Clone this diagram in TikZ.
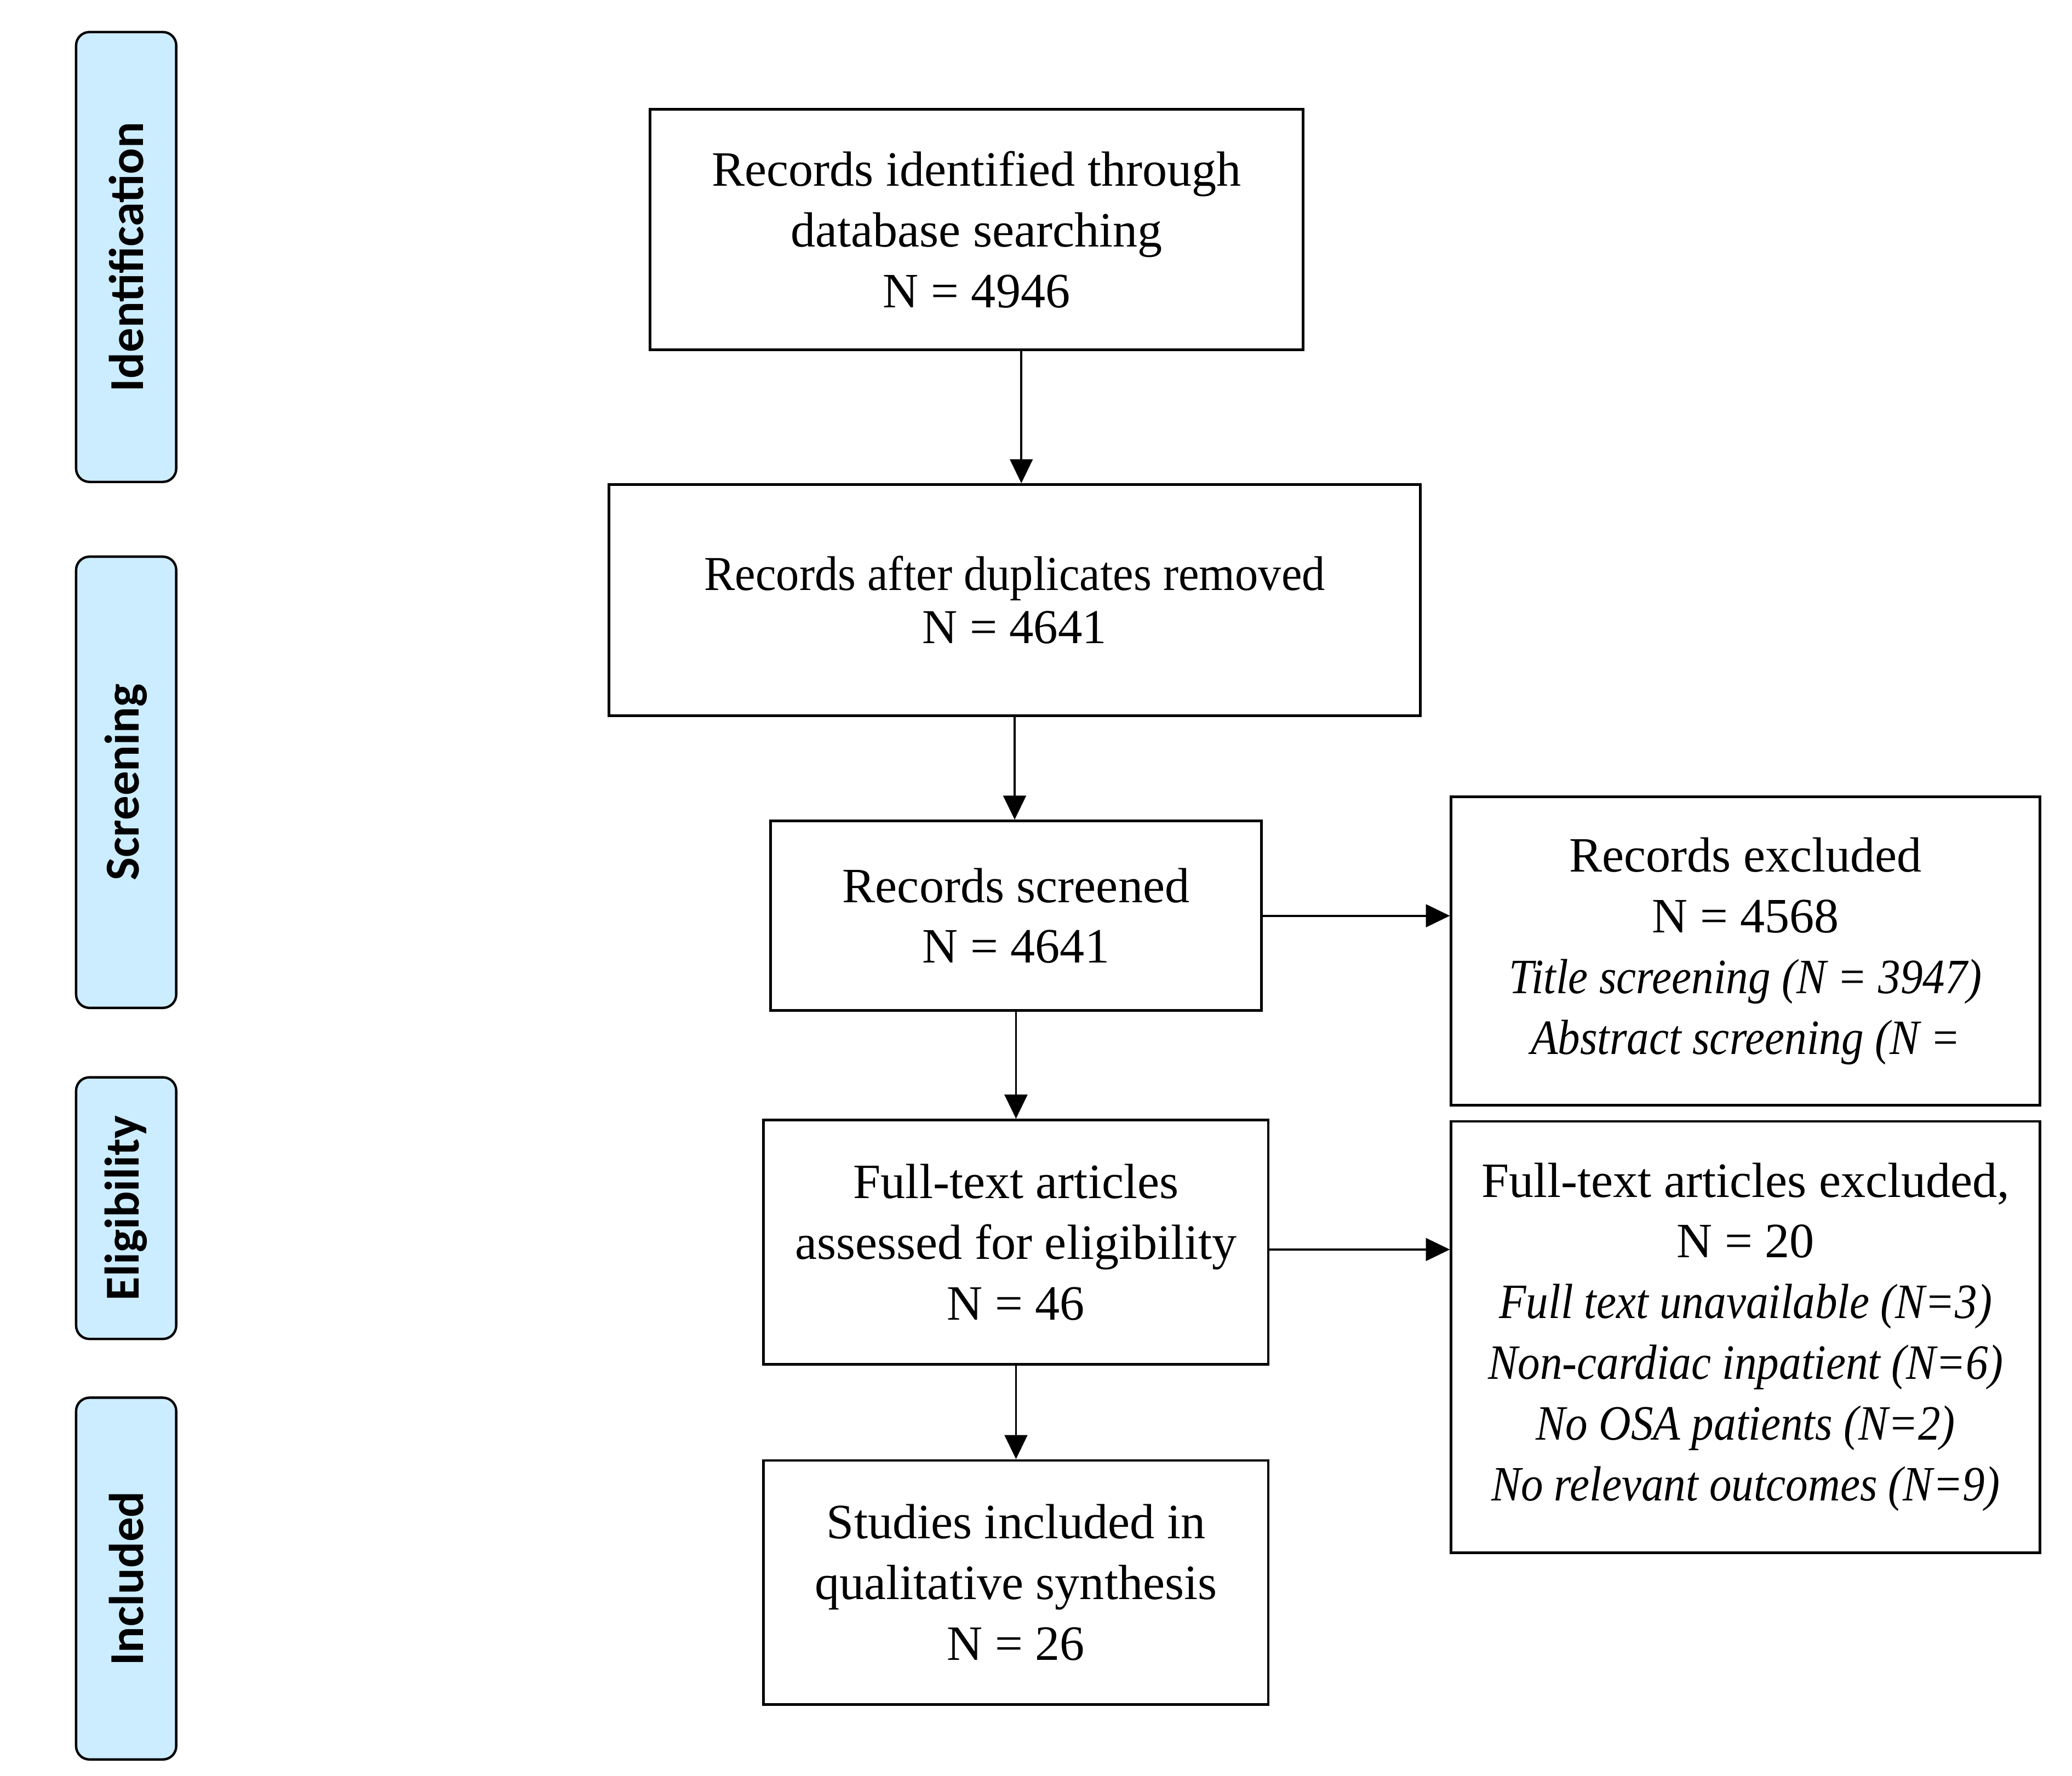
\documentclass[tikz,border=0pt]{standalone}
\usepackage{graphicx}
\usepackage{fontspec}
\setmainfont{Liberation Serif}
\newfontfamily\labelfont{Carlito}
\usetikzlibrary{arrows.meta}
\definecolor{phasefill}{RGB}{204,236,255}
\newcommand\itline[1]{\scalebox{0.9}[1]{\itshape #1}}
\begin{document}
\begin{tikzpicture}[x=1pt,y=-1pt,
  box/.style={draw, line width=2pt, align=center, inner sep=0pt,
    font=\fontsize{37}{45.5}\selectfont},
  phase/.style={draw, line width=1.8pt, fill=phasefill, rounded corners=10pt,
    minimum height=75pt, inner sep=0pt, rotate=90,
    font=\labelfont\bfseries\fontsize{36.5}{40}\selectfont},
  arr/.style={line width=1.6pt, -{Triangle[length=18pt,width=17pt]}}]
\useasboundingbox (0,0) rectangle (1552,1330);
% phase labels
\node[phase, minimum width=337pt] (pid) at (94.5,192.5) {Identification};
\node[phase, minimum width=338pt] (psc) at (94.5,586) {Screening};
\node[phase, minimum width=196pt] (pel) at (94.5,905) {Eligibility};
\node[phase, minimum width=271pt] (pin) at (94.5,1182.5) {Included};
% boxes
\node[box, minimum width=489pt, minimum height=180pt] (b1) at (731.5,172)
  {Records identified through\\database searching\\N = 4946};
\node[box, minimum width=608pt, minimum height=173pt,
  font=\fontsize{36.5}{40}\selectfont] (b2) at (760,449.5)
  {\scalebox{0.95}[1]{Records after duplicates removed}\\N = 4641};
\node[box, minimum width=368pt, minimum height=142pt] (b3) at (761,686)
  {Records screened\\N = 4641};
\node[box, minimum width=441pt, minimum height=231pt] (b4) at (1307.5,712.5)
  {Records excluded\\N = 4568\\\itline{Title screening (N = 3947)}\\\itline{Abstract screening (N =}};
\node[box, minimum width=378pt, minimum height=183pt] (b5) at (761,930.5)
  {Full-text articles\\assessed for eligibility\\N = 46};
\node[box, minimum width=441pt, minimum height=323pt] (b6) at (1307.5,1001.5)
  {Full-text articles excluded,\\N = 20\\\itline{Full text unavailable (N=3)}\\\itline{Non-cardiac inpatient (N=6)}\\\itline{No OSA patients (N=2)}\\\itline{No relevant outcomes (N=9)}};
\node[box, minimum width=378pt, minimum height=183pt] (b7) at (761,1185.5)
  {Studies included in\\qualitative synthesis\\N = 26};
% connectors
\draw[arr] ([xshift=33.5pt]b1.south) -- ([xshift=33.5pt]b1.south |- b2.north);
\draw[arr] (b2.south) -- (b2.south |- b3.north);
\draw[arr] (b3.east) -- (b3.east -| b4.west);
\draw[arr] (b3.south) -- (b3.south |- b5.north);
\draw[arr] ([yshift=-5.5pt]b5.east) -- ([yshift=-5.5pt]b5.east -| b6.west);
\draw[arr] (b5.south) -- (b5.south |- b7.north);
\end{tikzpicture}
\end{document}
